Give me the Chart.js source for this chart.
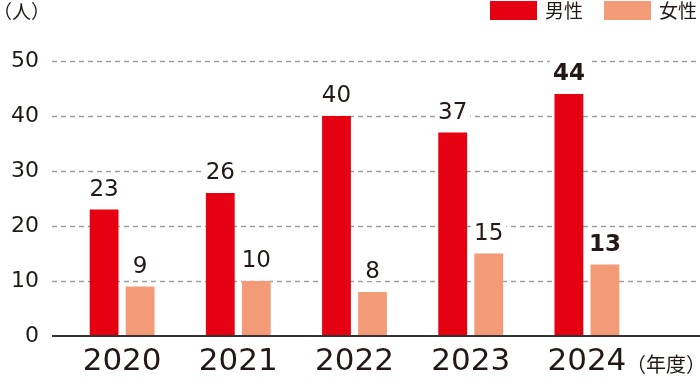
<!DOCTYPE html>
<html><head><meta charset="utf-8">
<script src="https://cdn.jsdelivr.net/npm/chart.js@4"></script>
<style>html,body{margin:0;padding:0;background:#fff}#wrap{width:700px;height:384px}</style>
</head><body><div id="wrap"><canvas id="c" width="700" height="384"></canvas></div>
<script>
const years = ['2020', '2021', '2022', '2023', '2024'];
const male = [23, 26, 40, 37, 44];
const female = [9, 10, 8, 15, 13];
const yTicks = [0, 10, 20, 30, 40, 50];
const seriesNames = ['男性', '女性'];
const unitLabel = '（人）';
const yearUnitLabel = '（年度）';
const boldYear = '2024';

const NUMFONT = "'DejaVu Sans', 'Noto Sans CJK JP', sans-serif";
const JPFONT = "'Noto Sans CJK JP', sans-serif";
const RED = '#E50012';
const PEACH = '#F29B76';
const TXT = '#231815';

const decor = {
  id: 'decor',
  beforeDatasetsDraw(chart) {
    const {ctx, scales: {y}} = chart;
    ctx.save();
    ctx.strokeStyle = '#9e9e9e';
    ctx.lineWidth = 1.3;
    ctx.setLineDash([5, 4]);
    y.ticks.forEach(t => {
      if (t.value === 0) return;
      const py = Math.round(y.getPixelForValue(t.value)) + 0.5;
      ctx.beginPath(); ctx.moveTo(52, py); ctx.lineTo(700, py); ctx.stroke();
    });
    ctx.restore();
  },
  afterDatasetsDraw(chart) {
    const {ctx, scales: {y}} = chart;
    ctx.save();
    const by = y.getPixelForValue(0);
    ctx.strokeStyle = '#333';
    ctx.lineWidth = 2;
    ctx.beginPath(); ctx.moveTo(52, by); ctx.lineTo(700, by); ctx.stroke();
    chart.data.datasets.forEach((ds, di) => {
      const meta = chart.getDatasetMeta(di);
      meta.data.forEach((bar, i) => {
        const bold = chart.data.labels[i] === boldYear;
        ctx.font = (bold ? 'bold ' : '') + '23px ' + NUMFONT;
        const txt = String(ds.data[i]);
        const w = ctx.measureText(txt).width;
        const ty = bar.y - 14;
        ctx.fillStyle = '#fff';
        ctx.fillRect(bar.x - w / 2 - 3, ty - 20, w + 6, 23);
        ctx.fillStyle = TXT;
        ctx.textAlign = 'center';
        ctx.textBaseline = 'alphabetic';
        ctx.fillText(txt, bar.x, ty);
      });
    });
    ctx.font = '19px ' + JPFONT;
    ctx.textAlign = 'left';
    ctx.textBaseline = 'middle';
    let lx = 490;
    chart.data.datasets.forEach(ds => {
      ctx.fillStyle = ds.backgroundColor;
      ctx.fillRect(lx, 1, 47, 19);
      ctx.fillStyle = TXT;
      ctx.fillText(ds.label, lx + 55, 11);
      lx += 55 + ctx.measureText(ds.label).width + 21;
    });
    ctx.font = '19px ' + JPFONT;
    ctx.fillText(unitLabel, -7, 12);
    ctx.font = '20px ' + JPFONT;
    ctx.fillText(yearUnitLabel, 626, 364);
    ctx.restore();
  }
};

new Chart(document.getElementById('c'), {
  type: 'bar',
  data: {
    labels: years,
    datasets: [
      {label: seriesNames[0], data: male, backgroundColor: RED},
      {label: seriesNames[1], data: female, backgroundColor: PEACH}
    ]
  },
  options: {
    responsive: false,
    animation: false,
    devicePixelRatio: 1,
    layout: {padding: {top: 61, right: 55, bottom: 0, left: 0}},
    datasets: {bar: {categoryPercentage: 0.62, barPercentage: 0.8}},
    plugins: {legend: {display: false}, tooltip: {enabled: false}},
    scales: {
      x: {
        grid: {display: false, drawTicks: false},
        border: {display: false},
        ticks: {font: {family: NUMFONT, size: 31}, color: TXT, padding: 7},
        afterFit(s) { s.height = 48; }
      },
      y: {
        min: 0, max: 50,
        afterBuildTicks(s) { s.ticks = yTicks.map(v => ({value: v})); },
        grid: {display: false, drawTicks: false},
        border: {display: false},
        ticks: {font: {family: NUMFONT, size: 22}, color: TXT, padding: 25},
        afterFit(s) { s.width = 64; }
      }
    }
  },
  plugins: [decor]
});
</script>
</body></html>
